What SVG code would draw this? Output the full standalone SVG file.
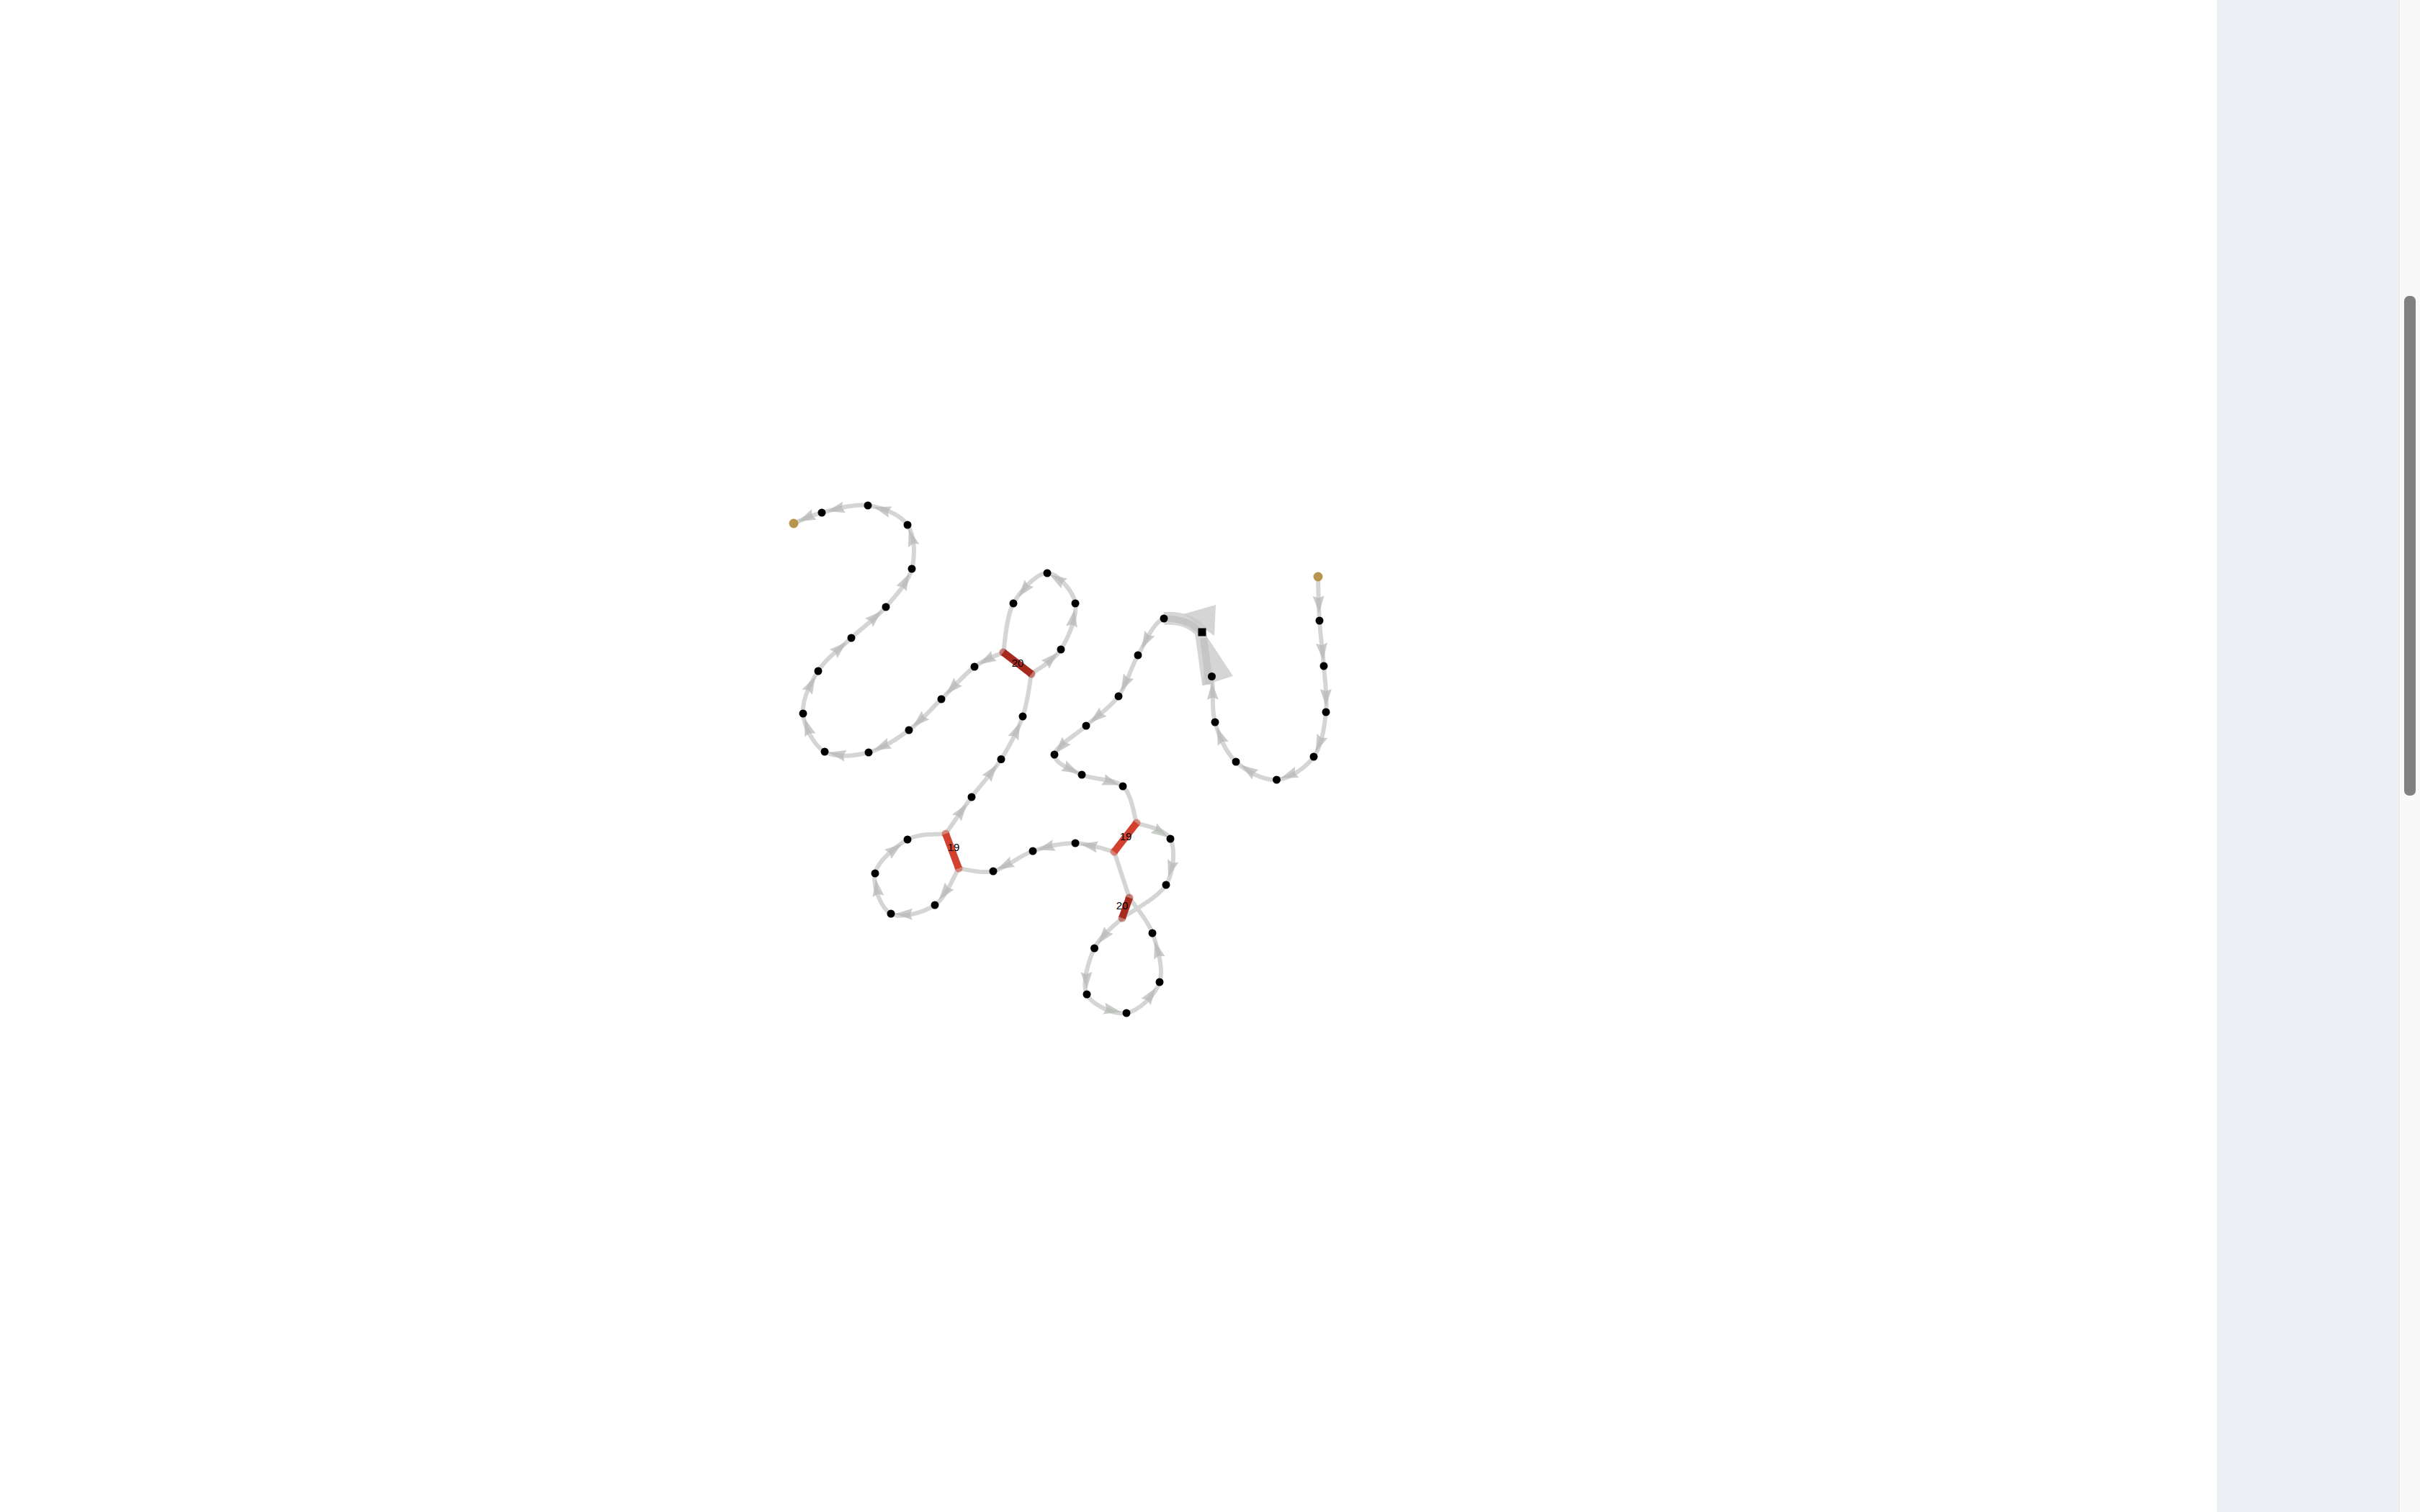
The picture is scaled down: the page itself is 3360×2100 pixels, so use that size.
<svg xmlns="http://www.w3.org/2000/svg" width="3360" height="2100" viewBox="0 0 3360 2100">
<style>
.pc{fill:none;stroke:#d4d6d4;stroke-width:6;stroke-linejoin:round;stroke-linecap:round}
.ar{fill:none;stroke:none;marker-start:url(#ah)}
.dot{fill:#000}
.gold{fill:#b8954f}
.rd{stroke:#a82a1f;stroke-width:10}
.rb{stroke:#d2402f;stroke-width:10}
.cd{fill:#a82a1f;fill-opacity:0.55}
.cb{fill:#d2402f;fill-opacity:0.55}
.lbl{font-family:"Liberation Sans",Arial,sans-serif;font-size:15px;fill:#000;text-anchor:middle}
</style>
<defs>
<marker id="ah" viewBox="0 -8 24 16" refX="0" refY="0" markerWidth="24" markerHeight="16" markerUnits="userSpaceOnUse" orient="auto" overflow="visible">
<path d="M0,-8 L24,0 L0,8 L3,0 Z" fill="#b4b6b4" fill-opacity="0.7"/>
</marker>
</defs>
<rect x="0" y="0" width="3360" height="2100" fill="#ffffff"/>
<rect x="3078" y="0" width="254" height="2100" fill="#eceff4"/>
<rect x="3331" y="0" width="29" height="2100" fill="#f9f9f9"/>
<line x1="3331.5" y1="0" x2="3331.5" y2="2100" stroke="#e6e6e6" stroke-width="1"/>
<rect x="3338" y="411" width="16" height="694" rx="7" fill="#808080"/>

<g id="connectors">
<path class="pc" d="M1830,801 C1830.3,811.2 1830.7,841.3 1832,862 C1833.3,882.7 1836.5,903.8 1838,925 C1839.5,946.2 1843.3,968 1841,989 C1838.7,1010 1835.4,1035.3 1824,1051 C1812.6,1066.7 1790.5,1081.8 1772.5,1083 C1754.5,1084.2 1730.3,1071.3 1716,1058 C1701.8,1044.7 1692.6,1022.75 1687,1003 C1681.4,983.25 1685.5,960.3 1682.5,939.5"/>
<path class="pc" d="M1616,859 C1601.2,864.3 1590.5,892 1580,910 C1569.5,928 1565,950.7 1553,967 C1541,983.3 1522.8,994.5 1508,1008 C1493.2,1021.5 1465,1036.7 1464,1048 C1463,1059.3 1486.2,1068.7 1502,1076 C1517.8,1083.3 1546.3,1080.8 1559,1092 C1571.7,1103.2 1574.8,1134.5 1578,1143"/>
<path class="pc" d="M1578,1143 C1585.8,1146.7 1618.2,1150.7 1625,1165 C1631.8,1179.3 1630.2,1210.7 1619,1229 C1607.8,1247.3 1568.2,1267.3 1558,1275"/>
<path class="pc" d="M1558,1275 C1551.6,1282 1527.7,1299.3 1519.5,1317 C1511.3,1334.7 1501.6,1366 1509,1381 C1516.4,1396 1547.2,1409.8 1564,1407 C1580.8,1404.2 1604,1382.5 1610,1364 C1616,1345.5 1607,1315.5 1600,1296 C1593,1276.5 1573.3,1255.2 1568,1247"/>
<path class="pc" d="M1568,1247 L1547,1183"/>
<path class="pc" d="M1547,1183 C1538,1181 1511.8,1171.2 1493,1171 C1474.2,1170.8 1453,1175.5 1434,1182 C1415,1188.5 1396.2,1206 1379,1210 C1361.8,1214 1339,1206.7 1331,1206"/>
<path class="pc" d="M1331,1206 C1325.5,1214.5 1313.7,1246.5 1298,1257 C1282.3,1267.5 1250.8,1276.3 1237,1269 C1223.2,1261.7 1211.2,1230.2 1215,1213 C1218.8,1195.8 1243.7,1175.2 1260,1166 C1276.3,1156.8 1304.2,1159.3 1313,1158"/>
<path class="pc" d="M1313,1158 C1319,1149.5 1336.2,1124.25 1349,1107 C1361.8,1089.75 1378.2,1073.2 1390,1054.5 C1401.8,1035.8 1413,1014.75 1420,995 C1427,975.25 1430,945.8 1432,936"/>
<path class="pc" d="M1432,936 C1438.8,930.3 1462.8,918.3 1473,902 C1483.2,885.7 1496.2,855.7 1493,838 C1489.8,820.3 1468.3,796 1454,796 C1439.7,796 1417.2,819.7 1407,838 C1396.8,856.3 1395.3,894.7 1393,906"/>
<path class="pc" d="M1393,906 C1386.3,909.3 1367.3,915.2 1353,926 C1338.7,936.8 1322.2,956.3 1307,971 C1291.8,985.7 1278.8,1001.7 1262,1014 C1245.2,1026.3 1225.5,1040 1206,1045 C1186.5,1050 1160.2,1053 1145,1044 C1129.8,1035 1116.5,1009.7 1115,991 C1113.5,972.3 1124.8,949.5 1136,932 C1147.2,914.5 1166.3,900.8 1182,886 C1197.7,871.2 1216,859 1230,843 C1244,827 1261,809 1266,790 C1271,771 1270.2,743.7 1260,729 C1249.8,714.3 1224.8,704.8 1205,702 C1185.2,699.2 1158.2,707.8 1141,712 C1123.8,716.2 1108.5,724.5 1102,727"/>

<g id="hub-edges">
<path d="M1616,859 Q1652,857 1669,879" fill="none" stroke="#d5d6d5" stroke-width="18"/>
<path d="M1620,859 Q1652,860 1667,878" fill="none" stroke="#c4c5c4" stroke-width="9"/>
<line x1="1667" y1="879" x2="1677" y2="951" stroke="#d5d6d5" stroke-width="16"/>
<line x1="1671" y1="886" x2="1679" y2="950" stroke="#c4c5c4" stroke-width="10"/>
<polygon points="1643,853 1688,840 1686,883" fill="#c6c7c6" fill-opacity="0.75"/>
<polygon points="1675,883 1712,939 1670,952" fill="#c6c7c6" fill-opacity="0.75"/>
</g>

<path class="ar" d="M1830.6,827.6 L1832,862"/>
<path class="ar" d="M1834.9,893.3 L1838,925"/>
<path class="ar" d="M1840.9,957.1 L1841,989"/>
<path class="ar" d="M1835.9,1022 L1824,1051"/>
<path class="ar" d="M1800.7,1072.4 L1772.5,1083"/>
<path class="ar" d="M1742.9,1075.9 L1716,1058"/>
<path class="ar" d="M1698.25,1032.9 L1687,1003"/>
<path class="ar" d="M1683.8,971.7 L1682.5,939.5"/>
<path class="ar" d="M1596.4,879.75 L1580,910"/>
<path class="ar" d="M1567.1,939.1 L1553,967"/>
<path class="ar" d="M1531.6,988.6 L1508,1008"/>
<path class="ar" d="M1480.8,1028.8 L1464,1048"/>
<path class="ar" d="M1476.7,1063.5 L1502,1076"/>
<path class="ar" d="M1531.7,1082.6 L1559,1092"/>
<path class="ar" d="M1601.9,1150 L1625,1165"/>
<path class="ar" d="M1628.75,1195.5 L1619,1229"/>
<path class="ar" d="M1539.4,1292 L1519.5,1317"/>
<path class="ar" d="M1508.4,1350 L1509,1381"/>
<path class="ar" d="M1533,1400.7 L1564,1407"/>
<path class="ar" d="M1591.1,1391.4 L1610,1364"/>
<path class="ar" d="M1609.9,1330.4 L1600,1296"/>
<path class="ar" d="M1523.7,1176.3 L1493,1171"/>
<path class="ar" d="M1463.6,1174 L1434,1182"/>
<path class="ar" d="M1405.8,1196.9 L1379,1210"/>
<path class="ar" d="M1318.3,1230.75 L1298,1257"/>
<path class="ar" d="M1266.8,1269.7 L1237,1269"/>
<path class="ar" d="M1219.4,1244.7 L1215,1213"/>
<path class="ar" d="M1232.8,1186.5 L1260,1166"/>
<path class="ar" d="M1328.4,1135.8 L1349,1107"/>
<path class="ar" d="M1369.9,1081.3 L1390,1054.5"/>
<path class="ar" d="M1406.8,1025.2 L1420,995"/>
<path class="ar" d="M1451.25,923 L1473,902"/>
<path class="ar" d="M1488,870.5 L1493,838"/>
<path class="ar" d="M1477.7,810.4 L1454,796"/>
<path class="ar" d="M1428.9,810.1 L1407,838"/>
<path class="ar" d="M1380.1,910.9 L1353,926"/>
<path class="ar" d="M1330.3,947.1 L1307,971"/>
<path class="ar" d="M1285.1,993.4 L1262,1014"/>
<path class="ar" d="M1235,1032.25 L1206,1045"/>
<path class="ar" d="M1173.9,1049.75 L1145,1044"/>
<path class="ar" d="M1124.9,1021.1 L1115,991"/>
<path class="ar" d="M1120.75,961.1 L1136,932"/>
<path class="ar" d="M1157.3,908 L1182,886"/>
<path class="ar" d="M1206.6,864.9 L1230,843"/>
<path class="ar" d="M1251.4,817.6 L1266,790"/>
<path class="ar" d="M1268.7,757.9 L1260,729"/>
<path class="ar" d="M1236.1,711.1 L1205,702"/>
<path class="ar" d="M1172,704.4 L1141,712"/>
<path class="ar" d="M1130.3,714.4 L1102,727"/>

<g id="loop-links">
<circle class="cd" cx="1393" cy="906" r="5.5"/><circle class="cd" cx="1432" cy="936" r="5.5"/>
<line class="rd" x1="1393" y1="906" x2="1432" y2="936"/>
<circle class="cb" cx="1313" cy="1158" r="5.5"/><circle class="cb" cx="1331" cy="1206" r="5.5"/>
<line class="rb" x1="1313" y1="1158" x2="1331" y2="1206"/>
<circle class="cb" cx="1547" cy="1183" r="5.5"/><circle class="cb" cx="1578" cy="1143" r="5.5"/>
<line class="rb" x1="1547" y1="1183" x2="1578" y2="1143"/>
<circle class="cd" cx="1568" cy="1247" r="5.5"/><circle class="cd" cx="1558" cy="1275" r="5.5"/>
<line class="rd" x1="1568" y1="1247" x2="1558" y2="1275"/>
</g>
</g>

<g id="nodes">
<g id="n0"><circle class="gold" cx="1830" cy="801" r="6.5"/></g>
<g id="n1"><circle class="dot" cx="1832" cy="862" r="5.5"/></g>
<g id="n2"><circle class="dot" cx="1838" cy="925" r="5.5"/></g>
<g id="n3"><circle class="dot" cx="1841" cy="989" r="5.5"/></g>
<g id="n4"><circle class="dot" cx="1824" cy="1051" r="5.5"/></g>
<g id="n5"><circle class="dot" cx="1772.5" cy="1083" r="5.5"/></g>
<g id="n6"><circle class="dot" cx="1716" cy="1058" r="5.5"/></g>
<g id="n7"><circle class="dot" cx="1687" cy="1003" r="5.5"/></g>
<g id="n8"><circle class="dot" cx="1682.5" cy="939.5" r="5.5"/></g>
<g id="n9"><rect class="dot" x="1663.5" y="872.5" width="11" height="11"/></g>
<g id="n10"><circle class="dot" cx="1616" cy="859" r="5.5"/></g>
<g id="n11"><circle class="dot" cx="1580" cy="910" r="5.5"/></g>
<g id="n12"><circle class="dot" cx="1553" cy="967" r="5.5"/></g>
<g id="n13"><circle class="dot" cx="1508" cy="1008" r="5.5"/></g>
<g id="n14"><circle class="dot" cx="1464" cy="1048" r="5.5"/></g>
<g id="n15"><circle class="dot" cx="1502" cy="1076" r="5.5"/></g>
<g id="n16"><circle class="dot" cx="1559" cy="1092" r="5.5"/></g>
<g id="n18"><circle class="dot" cx="1625" cy="1165" r="5.5"/></g>
<g id="n19"><circle class="dot" cx="1619" cy="1229" r="5.5"/></g>
<g id="n21"><circle class="dot" cx="1519.5" cy="1317" r="5.5"/></g>
<g id="n22"><circle class="dot" cx="1509" cy="1381" r="5.5"/></g>
<g id="n23"><circle class="dot" cx="1564" cy="1407" r="5.5"/></g>
<g id="n24"><circle class="dot" cx="1610" cy="1364" r="5.5"/></g>
<g id="n25"><circle class="dot" cx="1600" cy="1296" r="5.5"/></g>
<g id="n28"><circle class="dot" cx="1493" cy="1171" r="5.5"/></g>
<g id="n29"><circle class="dot" cx="1434" cy="1182" r="5.5"/></g>
<g id="n30"><circle class="dot" cx="1379" cy="1210" r="5.5"/></g>
<g id="n32"><circle class="dot" cx="1298" cy="1257" r="5.5"/></g>
<g id="n33"><circle class="dot" cx="1237" cy="1269" r="5.5"/></g>
<g id="n34"><circle class="dot" cx="1215" cy="1213" r="5.5"/></g>
<g id="n35"><circle class="dot" cx="1260" cy="1166" r="5.5"/></g>
<g id="n37"><circle class="dot" cx="1349" cy="1107" r="5.5"/></g>
<g id="n38"><circle class="dot" cx="1390" cy="1054.5" r="5.5"/></g>
<g id="n39"><circle class="dot" cx="1420" cy="995" r="5.5"/></g>
<g id="n41"><circle class="dot" cx="1473" cy="902" r="5.5"/></g>
<g id="n42"><circle class="dot" cx="1493" cy="838" r="5.5"/></g>
<g id="n43"><circle class="dot" cx="1454" cy="796" r="5.5"/></g>
<g id="n44"><circle class="dot" cx="1407" cy="838" r="5.5"/></g>
<g id="n46"><circle class="dot" cx="1353" cy="926" r="5.5"/></g>
<g id="n47"><circle class="dot" cx="1307" cy="971" r="5.5"/></g>
<g id="n48"><circle class="dot" cx="1262" cy="1014" r="5.5"/></g>
<g id="n49"><circle class="dot" cx="1206" cy="1045" r="5.5"/></g>
<g id="n50"><circle class="dot" cx="1145" cy="1044" r="5.5"/></g>
<g id="n51"><circle class="dot" cx="1115" cy="991" r="5.5"/></g>
<g id="n52"><circle class="dot" cx="1136" cy="932" r="5.5"/></g>
<g id="n53"><circle class="dot" cx="1182" cy="886" r="5.5"/></g>
<g id="n54"><circle class="dot" cx="1230" cy="843" r="5.5"/></g>
<g id="n55"><circle class="dot" cx="1266" cy="790" r="5.5"/></g>
<g id="n56"><circle class="dot" cx="1260" cy="729" r="5.5"/></g>
<g id="n57"><circle class="dot" cx="1205" cy="702" r="5.5"/></g>
<g id="n58"><circle class="dot" cx="1141" cy="712" r="5.5"/></g>
<g id="n59"><circle class="gold" cx="1102" cy="727" r="6.5"/></g>
</g>

<g id="labels">
<text class="lbl" x="1413" y="926">20</text>
<text class="lbl" x="1324" y="1182">19</text>
<text class="lbl" x="1563" y="1167">19</text>
<text class="lbl" x="1558" y="1263">20</text>
</g>
</svg>
